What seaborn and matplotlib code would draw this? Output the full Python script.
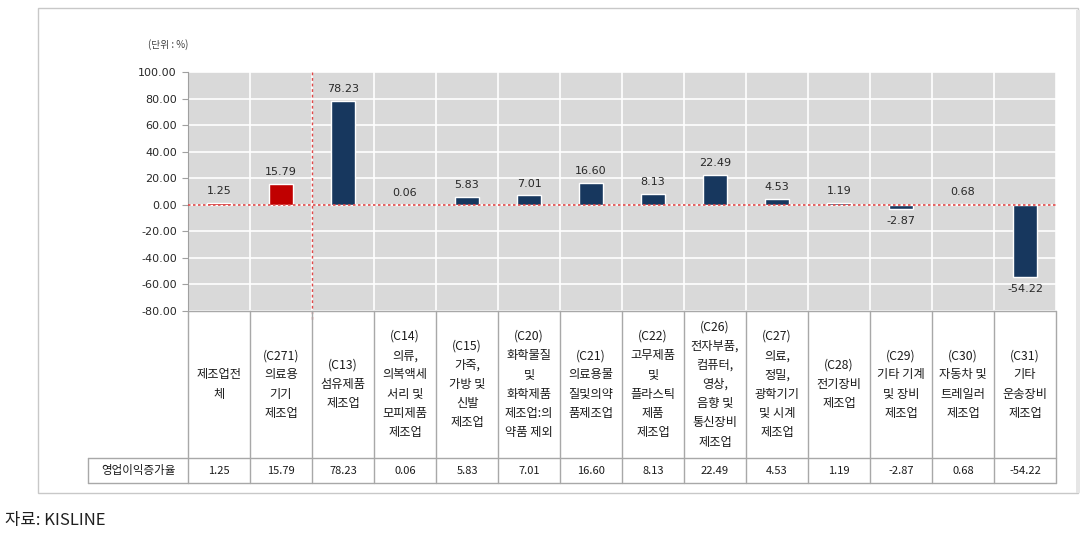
import matplotlib
matplotlib.use("Agg")
import matplotlib.pyplot as plt
import matplotlib.transforms as mtransforms
from matplotlib.lines import Line2D
from matplotlib.patches import Rectangle
import seaborn as sns
import pandas as pd
import numpy as np

categories = [
    "제조업전\n체",
    "(C271)\n의료용\n기기\n제조업",
    "(C13)\n섬유제품\n제조업",
    "(C14)\n의류,\n의복액세\n서리 및\n모피제품\n제조업",
    "(C15)\n가죽,\n가방 및\n신발\n제조업",
    "(C20)\n화학물질\n및\n화학제품\n제조업:의\n약품 제외",
    "(C21)\n의료용물\n질및의약\n품제조업",
    "(C22)\n고무제품\n및\n플라스틱\n제품\n제조업",
    "(C26)\n전자부품,\n컴퓨터,\n영상,\n음향 및\n통신장비\n제조업",
    "(C27)\n의료,\n정밀,\n광학기기\n및 시계\n제조업",
    "(C28)\n전기장비\n제조업",
    "(C29)\n기타 기계\n및 장비\n제조업",
    "(C30)\n자동차 및\n트레일러\n제조업",
    "(C31)\n기타\n운송장비\n제조업",
]
values = [1.25, 15.79, 78.23, 0.06, 5.83, 7.01, 16.60, 8.13, 22.49, 4.53, 1.19, -2.87, 0.68, -54.22]
groups = ["highlight", "highlight"] + ["other"] * 12
yticks = [100, 80, 60, 40, 20, 0, -20, -40, -60, -80]
row_label = "영업이익증가율"
unit_label = "(단위 : %)"
source_label = "자료: KISLINE"

sns.set_style("white")
plt.rcParams["font.family"] = ["Noto Sans CJK KR", "DejaVu Sans"]

W, H = 1092, 546
fig = plt.figure(figsize=(W / 100, H / 100), dpi=100)

def fx(p):
    return p / W

def fy(p):
    return 1 - p / H

# outer frame
fig.patches.append(Rectangle((fx(38), fy(493)), fx(1078) - fx(38), fy(8) - fy(493),
                             transform=fig.transFigure, fill=False, edgecolor="#C8C8C8", lw=1.0))
fig.patches.append(Rectangle((fx(1076), fy(493)), fx(4), fy(10) - fy(493),
                             transform=fig.transFigure, facecolor="#E6E6E6", edgecolor="none"))

ax_left, ax_right, ax_top, ax_bot = 188, 1056, 72, 311
ax = fig.add_axes([fx(ax_left), fy(ax_bot), fx(ax_right) - fx(ax_left), fy(ax_top) - fy(ax_bot)])

df = pd.DataFrame({"cat": categories, "value": values, "group": groups})
sns.barplot(data=df, x="cat", y="value", hue="group",
            palette={"highlight": "#C00000", "other": "#17375E"},
            width=0.4, legend=False, ax=ax, saturation=1, zorder=3)

ax.set_xlim(-0.5, len(categories) - 0.5)
ax.set_ylim(-80, 100)
ax.set_facecolor("#D9D9D9")
ax.set_yticks(yticks)
ax.set_yticklabels([f"{t:.2f}" for t in yticks], fontsize=8, color="#282828",
                   family=["DejaVu Sans"])
ax.set_xticks(np.arange(len(categories)) + 0.5, minor=True)
ax.set_xticks([])
ax.set_xlabel("")
ax.set_ylabel("")
ax.grid(axis="y", color="white", lw=1.2, zorder=0)
ax.grid(axis="x", which="minor", color="white", lw=1.2, zorder=0)
ax.set_axisbelow(True)
for s in ["top", "right", "bottom"]:
    ax.spines[s].set_visible(False)
ax.spines["left"].set_color("#A0A0A0")
ax.tick_params(axis="y", length=4, color="#A0A0A0", pad=4, direction="out", left=True)
ax.tick_params(axis="x", which="minor", length=0)

# reference lines
ax.axhline(0, color="#E04848", lw=1.2, ls=(0, (1.5, 1.5)), zorder=4)
ax.plot([1.5, 1.5], [100, -87], color="#E04848", lw=1.0, ls=(0, (2, 2)),
        clip_on=False, zorder=4)

# value labels
for i, v in enumerate(values):
    if v >= 0:
        ax.annotate(f"{v:.2f}", (i, v), xytext=(0, 5), textcoords="offset points",
                    ha="center", va="bottom", fontsize=8, color="#282828", family=["DejaVu Sans"])
    else:
        ax.annotate(f"{v:.2f}", (i, v), xytext=(0, -5), textcoords="offset points",
                    ha="center", va="top", fontsize=8, color="#282828", family=["DejaVu Sans"])

# data table below
tr = mtransforms.blended_transform_factory(ax.transData, fig.transFigure)
lc = "#A8A8A8"
n = len(categories)
t_top, t_mid, t_bot = 311, 458, 483
for yy in [t_top, t_mid, t_bot]:
    fig.add_artist(Line2D([-0.5, n - 0.5], [fy(yy), fy(yy)], transform=tr, color=lc, lw=1))
for i in range(n + 1):
    fig.add_artist(Line2D([i - 0.5, i - 0.5], [fy(t_top), fy(t_bot)], transform=tr, color=lc, lw=1))
# row label cell
for yy in [t_mid, t_bot]:
    fig.add_artist(Line2D([fx(88), fx(ax_left)], [fy(yy), fy(yy)], transform=fig.transFigure, color=lc, lw=1))
fig.add_artist(Line2D([fx(88), fx(88)], [fy(t_mid), fy(t_bot)], transform=fig.transFigure, color=lc, lw=1))
fig.text(fx(138), fy((t_mid + t_bot) / 2), row_label, ha="center", va="center",
         fontsize=8.3, color="#1a1a1a")

for i, (c, v) in enumerate(zip(categories, values)):
    fig.text(i, fy((t_top + t_mid) / 2), c, transform=tr, ha="center", va="center",
             fontsize=8.8, color="#1a1a1a", linespacing=1.62, multialignment="center")
    fig.text(i, fy((t_mid + t_bot) / 2), f"{v:.2f}", transform=tr, ha="center", va="center",
             fontsize=8, color="#1a1a1a")

fig.text(fx(148), fy(45), unit_label, ha="left", va="center", fontsize=7, color="#404040")
fig.text(fx(5), fy(521), source_label, ha="left", va="center", fontsize=12, color="#202020")

fig.savefig("out.png", dpi=100)
